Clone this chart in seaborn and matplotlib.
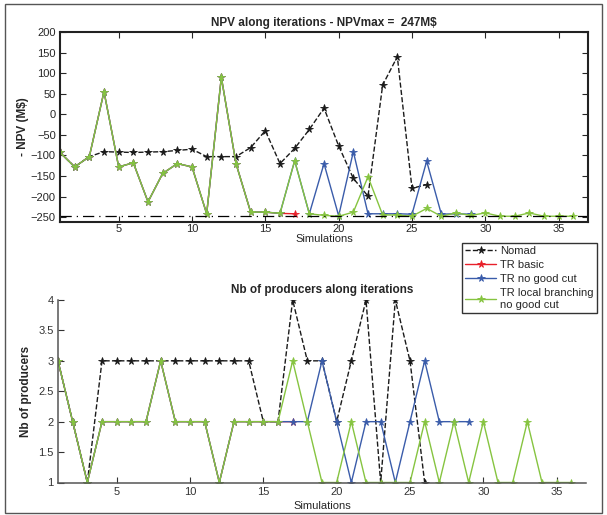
import matplotlib
matplotlib.use("Agg")
import matplotlib.pyplot as plt
import seaborn as sns
import numpy as np
import pandas as pd
from matplotlib.lines import Line2D
from matplotlib.patches import Rectangle

sns.set_style("ticks")
plt.rcParams['font.family'] = ['Liberation Sans', 'DejaVu Sans']

# ---- data ----
npv_nomad = [-93, -128, -103, -91, -92, -93, -92, -91, -88, -85, -103, -103, -103,
             -81, -40, -120, -83, -37, 15, -77, -156, -199, 71, 140, -180, -171]
npv_tr_basic = [-93, -128, -103, 55, -128, -118, -213, -144, -120, -128, -242, 90,
                -120, -238, -238, -241, -242]
npv_tr_nogood = [-93, -128, -103, 55, -128, -118, -213, -144, -120, -128, -242, 90,
                 -120, -238, -238, -241, -113, -242, -120, -247, -91, -242, -242,
                 -242, -243, -114, -243, -242, -243]
npv_tr_local = [-93, -128, -103, 55, -128, -118, -213, -144, -120, -128, -242, 90,
                -120, -238, -238, -241, -113, -242, -246, -248, -238, -152, -245,
                -245, -248, -229, -248, -240, -246, -240, -248, -248, -240, -248,
                -248, -248]
npv_max = -247

prod_nomad = [3, 2, 1, 3, 3, 3, 3, 3, 3, 3, 3, 3, 3, 3, 2, 2, 4, 3, 3, 2, 3, 4, 1, 4, 3, 1]
prod_tr_basic = [3, 2, 1, 2, 2, 2, 2, 3, 2, 2, 2, 1, 2, 2, 2, 2, 2]
prod_tr_nogood = [3, 2, 1, 2, 2, 2, 2, 3, 2, 2, 2, 1, 2, 2, 2, 2, 2, 2, 3, 2, 1, 2,
                  2, 1, 2, 3, 2, 2, 2]
prod_tr_local = [3, 2, 1, 2, 2, 2, 2, 3, 2, 2, 2, 1, 2, 2, 2, 2, 3, 2, 1, 1, 2, 1,
                 1, 1, 1, 2, 1, 2, 1, 2, 1, 1, 2, 1, 1, 1]

labels = ["Nomad", "TR basic", "TR no good cut", "TR local branching\nno good cut"]
colors = ["#1a1a1a", "#e8202a", "#3a5caa", "#86c440"]
styles = ["--", "-", "-", "-"]
xticks = [5, 10, 15, 20, 25, 30, 35]

fig = plt.figure(figsize=(6.07, 5.15), dpi=100)

# outer frame
fig.patches.append(Rectangle((5 / 607, 2 / 515), 597 / 607, 509 / 515,
                             transform=fig.transFigure, fill=False,
                             edgecolor="#555555", linewidth=1.0))

ax1 = fig.add_axes([60 / 607, 1 - 222 / 515, 528 / 607, 190 / 515])
ax2 = fig.add_axes([58 / 607, 1 - 482.5 / 515, 528 / 607, 182.5 / 515])

mk = "*"
ms = 5.5


def draw(ax, series):
    for s, c, ls in zip(series, colors, styles):
        x = np.arange(1, len(s) + 1)
        df = pd.DataFrame({"x": x, "y": s})
        sns.lineplot(data=df, x="x", y="y", ax=ax, color=c, linestyle=ls,
                     linewidth=1.0, marker=mk, markersize=ms,
                     markeredgewidth=0.6, markeredgecolor=c,
                     markerfacecolor=c)


draw(ax1, [npv_nomad, npv_tr_basic, npv_tr_nogood, npv_tr_local])
ax1.axhline(npv_max, color="black", linestyle=(0, (9, 4, 1, 4)), linewidth=0.9)
ax1.set_xlim(1, 37)
ax1.set_ylim(-262, 200)
ax1.set_yticks(np.arange(-250, 201, 50))
ax1.set_xticks(xticks)
ax1.tick_params(direction="in", top=True, right=True, labelsize=8, length=4,
                width=0.8, pad=3)
ax1.tick_params(axis="x", pad=1.5)
for sp in ax1.spines.values():
    sp.set_visible(True)
    sp.set_linewidth(1.5)
    sp.set_color("#222222")
ax1.set_title("NPV along iterations - NPVmax =  247M$", fontsize=8.5,
              fontweight="bold", pad=4)
ax1.set_ylabel("- NPV (M$)", fontsize=8.5, fontweight="bold", labelpad=1)
ax1.set_xlabel("Simulations", fontsize=8, labelpad=0)

draw(ax2, [prod_nomad, prod_tr_basic, prod_tr_nogood, prod_tr_local])
ax2.set_xlim(1, 37)
ax2.set_ylim(1, 4)
ax2.set_yticks(np.arange(1, 4.01, 0.5))
ax2.set_yticklabels(["1", "1.5", "2", "2.5", "3", "3.5", "4"])
ax2.set_xticks(xticks)
ax2.tick_params(direction="in", labelsize=8, length=4, width=0.8, pad=3,
                colors="#333333")
sns.despine(ax=ax2)
for side in ["left", "bottom"]:
    ax2.spines[side].set_linewidth(1.1)
    ax2.spines[side].set_color("#555555")
ax2.set_title("Nb of producers along iterations", fontsize=8.5,
              fontweight="bold", pad=5)
ax2.set_ylabel("Nb of producers", fontsize=8.5, fontweight="bold", labelpad=5)
ax2.set_xlabel("Simulations", fontsize=8, labelpad=3)

handles = [Line2D([0], [0], color=c, linestyle=ls, linewidth=1.0, marker=mk,
                  markersize=ms, markeredgewidth=0.6)
           for c, ls in zip(colors, styles)]
leg = fig.legend(handles, labels, loc="upper left",
                 bbox_to_anchor=(462 / 607, 1 - 243 / 515), fontsize=8,
                 frameon=True, fancybox=False, handlelength=2.8,
                 handletextpad=0.3, borderpad=0.3, labelspacing=0.35,
                 borderaxespad=0)
leg.get_frame().set_edgecolor("black")
leg.get_frame().set_linewidth(1.0)

fig.savefig("out.png", dpi=100)
